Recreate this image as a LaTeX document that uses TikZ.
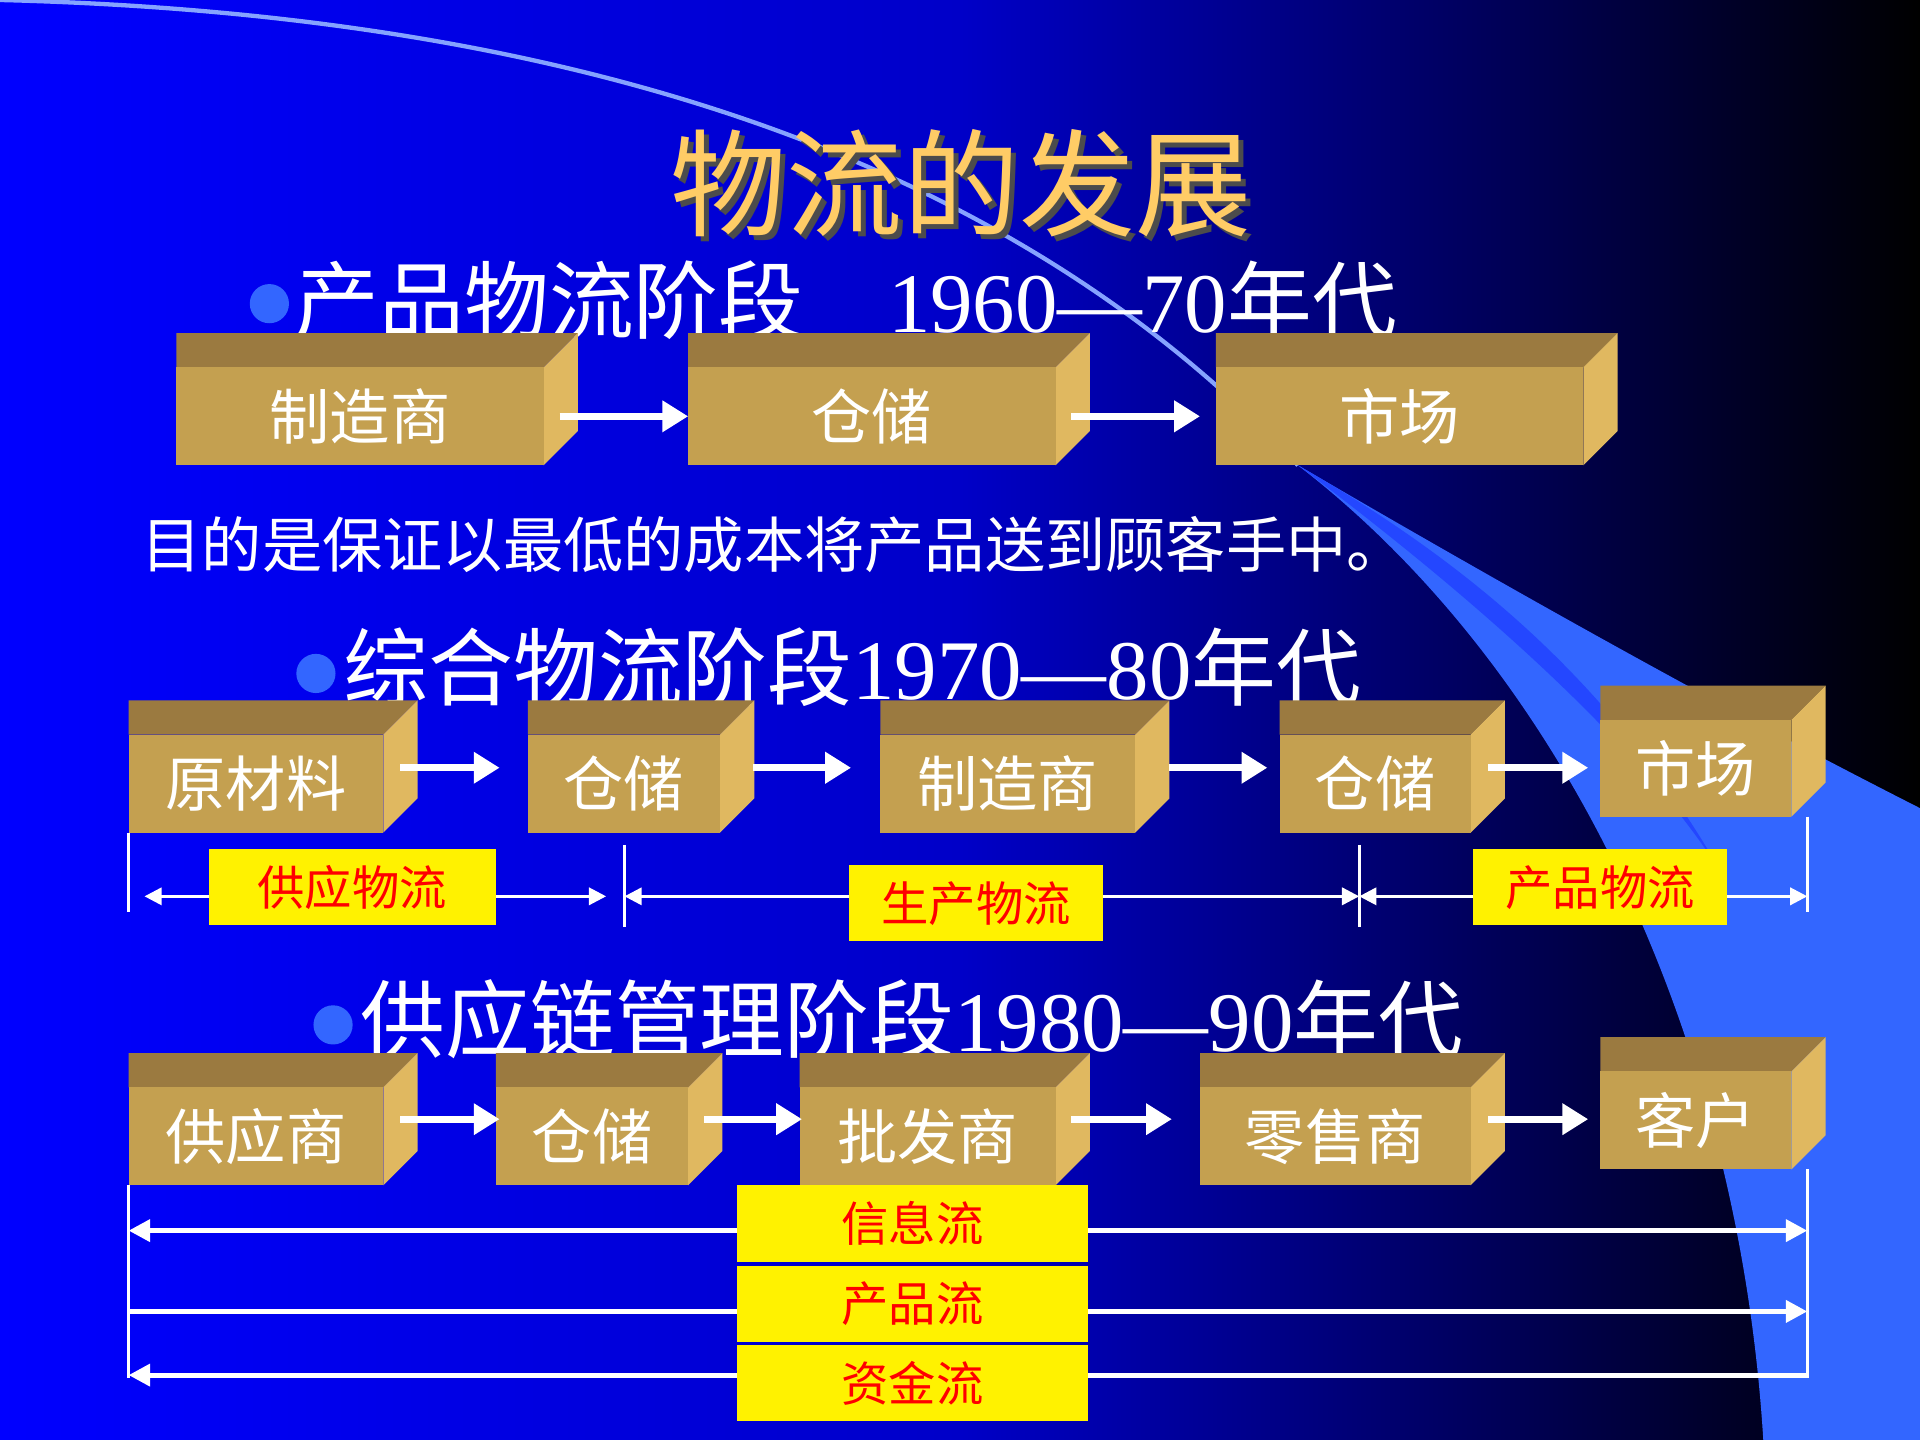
\documentclass[tikz,border=0pt]{standalone}
\usepackage{fontspec}
\setmainfont{Liberation Serif}
\newfontfamily\cjk{Noto Sans CJK SC}
\usetikzlibrary{arrows.meta}
\definecolor{tanf}{HTML}{C4A050}
\definecolor{tant}{HTML}{9B7A40}
\definecolor{tans}{HTML}{E0B860}
\definecolor{lblue}{HTML}{3366FF}
\definecolor{ttl}{HTML}{FFCC66}
\tikzset{
  fw/.style={white,line width=1.7pt,-{Triangle[length=6pt,width=7pt]}},
  thinw/.style={white,line width=0.7pt},
  ylab/.style={fill=yellow,text=red,font=\cjk\fontsize{11}{12}\selectfont,inner sep=0pt,anchor=north west},
  btxt/.style={white,font=\cjk\fontsize{14}{16}\selectfont},
  head/.style={white,anchor=west,font=\fontsize{19.7}{22}\selectfont,inner sep=0pt},
}
\newcommand{\pbox}[6]{% x1 x2 ytop ybot name text
  \fill[tant] (#1/100,-#3/100+0.28) -- (#2/100+0.28,-#3/100+0.28) -- (#2/100,-#3/100) -- (#1/100,-#3/100) -- cycle;
  \fill[tans] (#2/100,-#3/100) -- (#2/100+0.28,-#3/100+0.28) -- (#2/100+0.28,-#4/100+0.28) -- (#2/100,-#4/100) -- cycle;
  \fill[tanf] (#1/100,-#3/100) rectangle (#2/100,-#4/100);
  \node[btxt] (#5) at ({(#1+#2)/200},{-(#3+#4)/200}) {#6};
  \coordinate (#5L) at (#1/100,{-(#3+#4)/200});
  \coordinate (#5R) at (#2/100,{-(#3+#4)/200});
}
\begin{document}
\begin{tikzpicture}
\useasboundingbox (0,0) rectangle (15.68,-11.76);
\shade[left color=blue,right color=black,middle color={rgb,255:red,0;green,0;blue,200}] (0,0) rectangle (15.68,-11.76);
\fill[lblue] (10.6,-3.8) .. controls (13,-5.2) and (14.5,-6) .. (15.68,-6.6) -- (15.68,-11.76) -- (14.4,-11.76) .. controls (14.2,-8.5) and (12.8,-5.5) .. (10.6,-3.8) -- cycle;
\fill[lblue!70!blue] (10.6,-3.8) .. controls (12.2,-5) and (13.5,-6.2) .. (14.1,-7.2) .. controls (13.2,-5.6) and (12,-4.6) .. (10.6,-3.8);
\draw[lblue!60!white,line width=1pt] (0,0) .. controls (4,-0.1) and (8,-1) .. (10.6,-3.8);
\node[black!70,font=\cjk\fontsize{27}{30}\selectfont] at (7.89,-1.54) {物流的发展};
\node[ttl,font=\cjk\fontsize{27}{30}\selectfont] (title) at (7.85,-1.5) {物流的发展};
% row 1
\fill[lblue] (2.2,-2.48) circle (0.16);
\node[head] (h1) at (2.4,-2.45) {{\cjk 产品物流阶段}\quad1960—70{\cjk 年代}};
\pbox{144}{444}{300}{380}{a1}{制造商}
\pbox{562}{862}{300}{380}{a2}{仓储}
\pbox{993}{1293}{300}{380}{a3}{市场}
\draw[fw] ([xshift=0.13cm]a1R) -- (a2L);
\draw[fw] ([xshift=0.13cm]a2R) -- ([xshift=-0.13cm]a3L);
\node[white,anchor=west,font=\cjk\fontsize{14}{16}\selectfont,inner sep=0pt] (t1) at (1.15,-4.45) {目的是保证以最低的成本将产品送到顾客手中。};
% row 2
\fill[lblue] (2.58,-5.5) circle (0.16);
\node[head] (h2) at (2.8,-5.45) {{\cjk 综合物流阶段}1970—80{\cjk 年代}};
\pbox{105}{313}{600}{680}{b1}{原材料}
\pbox{431}{588}{600}{680}{b2}{仓储}
\pbox{719}{927}{600}{680}{b3}{制造商}
\pbox{1045}{1201}{600}{680}{b4}{仓储}
\pbox{1307}{1463}{588}{667}{b5}{市场}
\coordinate (p1) at (3.27,-6.27); \coordinate (q1) at (4.08,-6.27);
\coordinate (p2) at (6.15,-6.27); \coordinate (q2) at (6.95,-6.27);
\coordinate (p3) at (9.55,-6.27); \coordinate (q3) at (10.35,-6.27);
\coordinate (p4) at (12.15,-6.27); \coordinate (q4) at (12.97,-6.27);
\foreach \i in {1,...,4} \draw[fw] (p\i) -- (q\i);
\coordinate (v1a) at (1.05,-6.8); \coordinate (v1b) at (1.05,-7.45);
\coordinate (v2a) at (5.1,-6.9); \coordinate (v2b) at (5.1,-7.57);
\coordinate (v3a) at (11.1,-6.9); \coordinate (v3b) at (11.1,-7.57);
\coordinate (v4a) at (14.76,-6.67); \coordinate (v4b) at (14.76,-7.45);
\foreach \i in {1,...,4} \draw[thinw] (v\i a) -- (v\i b);
\coordinate (h1a) at (1.18,-7.32); \coordinate (h1b) at (4.95,-7.32);
\coordinate (h2a) at (5.1,-7.32); \coordinate (h2b) at (11.1,-7.32);
\coordinate (h3a) at (11.1,-7.32); \coordinate (h3b) at (14.76,-7.32);
\foreach \i in {1,2,3} \draw[thinw,{Triangle[length=4pt,width=4pt]}-{Triangle[length=4pt,width=4pt]}] (h\i a) -- (h\i b);
\node[ylab,minimum width=2.34cm,minimum height=0.62cm] (l1) at (1.70,-6.93) {供应物流};
\node[ylab,minimum width=2.07cm,minimum height=0.62cm] (l2) at (6.93,-7.06) {生产物流};
\node[ylab,minimum width=2.08cm,minimum height=0.62cm] (l3) at (12.02,-6.93) {产品物流};
% row 3
\fill[lblue] (2.72,-8.37) circle (0.16);
\node[head] (h3) at (2.94,-8.32) {{\cjk 供应链管理阶段}1980—90{\cjk 年代}};
\pbox{105}{313}{888}{968}{c1}{供应商}
\pbox{405}{562}{888}{968}{c2}{仓储}
\pbox{653}{862}{888}{968}{c3}{批发商}
\pbox{980}{1201}{888}{968}{c4}{零售商}
\pbox{1307}{1463}{875}{955}{c5}{客户}
\coordinate (r1) at (3.27,-9.14); \coordinate (s1) at (4.08,-9.14);
\coordinate (r2) at (5.75,-9.14); \coordinate (s2) at (6.55,-9.14);
\coordinate (r3) at (8.75,-9.14); \coordinate (s3) at (9.57,-9.14);
\coordinate (r4) at (12.15,-9.14); \coordinate (s4) at (12.97,-9.14);
\foreach \i in {1,...,4} \draw[fw] (r\i) -- (s\i);
\coordinate (w1a) at (1.05,-9.68); \coordinate (w1b) at (1.05,-11.25);
\coordinate (w2a) at (14.76,-9.55); \coordinate (w2b) at (14.76,-11.25);
\draw[thinw] (w1a) -- (w1b); \draw[thinw] (w2a) -- (w2b);
\coordinate (f1a) at (1.05,-10.05); \coordinate (f1b) at (14.76,-10.05);
\coordinate (f2a) at (1.05,-10.71); \coordinate (f2b) at (14.76,-10.71);
\coordinate (f3a) at (1.05,-11.23); \coordinate (f3b) at (14.76,-11.23);
\tikzset{ft/.style={white,line width=1.2pt}}
\draw[ft,{Triangle[length=5pt,width=5pt]}-{Triangle[length=5pt,width=5pt]}] (f1a) -- (f1b);
\draw[ft,-{Triangle[length=5pt,width=5pt]}] (f2a) -- (f2b);
\draw[ft,{Triangle[length=5pt,width=5pt]}-] (f3a) -- (f3b);
\node[ylab,minimum width=2.87cm,minimum height=0.63cm] (m1) at (6.01,-9.67) {信息流};
\node[ylab,minimum width=2.87cm,minimum height=0.62cm] (m2) at (6.01,-10.33) {产品流};
\node[ylab,minimum width=2.87cm,minimum height=0.62cm] (m3) at (6.01,-10.98) {资金流};
\end{tikzpicture}
\end{document}
